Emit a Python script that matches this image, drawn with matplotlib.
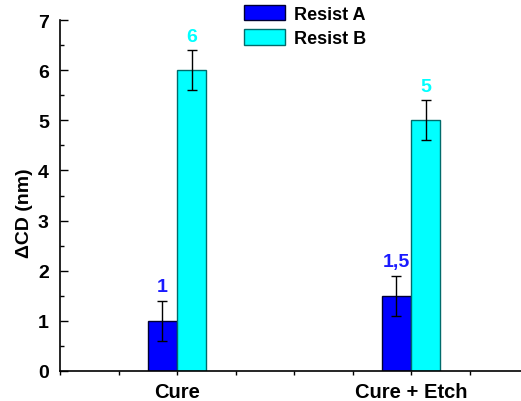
import numpy as np
import matplotlib.pyplot as plt
from matplotlib.ticker import MultipleLocator

plt.rcParams['font.family'] = ['Liberation Sans', 'DejaVu Sans']
plt.rcParams['font.weight'] = 'bold'

# data
categories = ["Cure", "Cure + Etch"]
resist_a = [1.0, 1.5]
resist_b = [6.0, 5.0]
err_a = [0.4, 0.4]
err_b = [0.4, 0.4]
labels_a = ["1", "1,5"]
labels_b = ["6", "5"]

fig = plt.figure(figsize=(5.21, 4.02), dpi=100)
ax = fig.add_axes([60 / 521, 30 / 402, 461 / 521, 351 / 402])

x = np.arange(1, len(categories) + 1)
w = 0.125

ax.bar(x - w / 2, resist_a, w, color='#0000ff', edgecolor='#000033', linewidth=1, label='Resist A')
ax.bar(x + w / 2, resist_b, w, color='#00ffff', edgecolor='#006b6b', linewidth=1, label='Resist B')
ax.errorbar(x - w / 2, resist_a, yerr=err_a, fmt='none', ecolor='black', elinewidth=1, capsize=3.5, capthick=1)
ax.errorbar(x + w / 2, resist_b, yerr=err_b, fmt='none', ecolor='black', elinewidth=1, capsize=3.5, capthick=1)

for xi, v, t in zip(x - w / 2, resist_a, labels_a):
    ax.text(xi, v + 0.68, t, color='#1a1aff', ha='center', va='center', fontsize=14, fontweight='heavy')
for xi, v, t in zip(x + w / 2, resist_b, labels_b):
    ax.text(xi, v + 0.68, t, color='#00ffff', ha='center', va='center', fontsize=14, fontweight='heavy')

ax.set_xlim(0.5, 2.47)
ax.set_ylim(0, 7)
ax.set_xticks(x)
ax.set_xticklabels(categories, fontsize=14.5, fontweight='heavy')
ax.xaxis.set_minor_locator(MultipleLocator(0.25))
ax.yaxis.set_major_locator(MultipleLocator(1))
ax.yaxis.set_minor_locator(MultipleLocator(0.5))
ax.tick_params(axis='y', which='major', direction='in', length=6, width=1, labelsize=14, pad=8)
ax.tick_params(axis='y', which='minor', direction='in', length=3, width=1)
ax.tick_params(axis='x', which='both', direction='out', length=3, width=1, pad=5)
for lab in ax.get_yticklabels():
    lab.set_fontweight('heavy')

ax.spines['top'].set_visible(False)
ax.spines['right'].set_visible(False)
ax.spines['left'].set_linewidth(1.2)
ax.spines['bottom'].set_linewidth(1.2)

ax.set_ylabel('ΔCD (nm)', fontsize=14, fontweight='heavy')
ax.yaxis.set_label_coords(-0.058, 0.453)

ax.legend(loc='upper left', bbox_to_anchor=(242 / 521, 1 - 4 / 402), bbox_transform=fig.transFigure,
          frameon=False, prop={'size': 13, 'weight': 'heavy'}, handlelength=2.3, handleheight=0.95,
          handletextpad=0.5, labelspacing=0.35, borderaxespad=0, borderpad=0.1)

fig.savefig('out.png', dpi=100)
